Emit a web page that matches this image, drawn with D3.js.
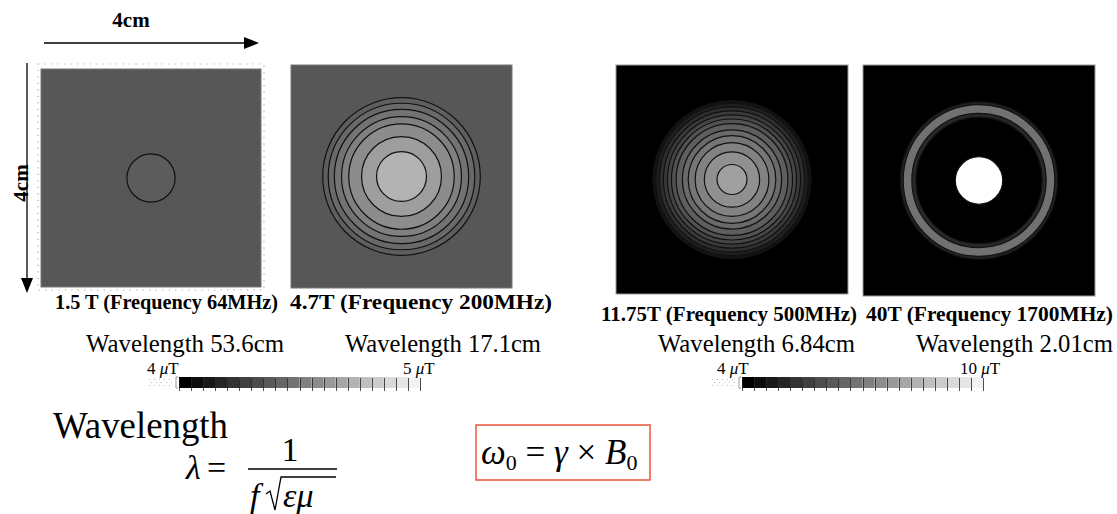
<!DOCTYPE html>
<meta charset="utf-8">
<script src="https://d3js.org/d3.v7.min.js"></script>
<style>
  body { margin: 0; background: #fff; }
</style>
<div id="chart"></div>
<script>
// ---- data ----
var fields = ["1.5T", "4.7T", "11.75T", "40T"];
var panelLabels = ["1.5 T (Frequency 64MHz)", "4.7T (Frequency 200MHz)", "11.75T (Frequency 500MHz)", "40T (Frequency 1700MHz)"];
var wavelengthLabels = ["Wavelength 53.6cm", "Wavelength 17.1cm", "Wavelength 6.84cm", "Wavelength 2.01cm"];

// field (uT) outside the rings
var backgroundLevels = [4.34, 4.34, 3.9, 3.9];
// ring radii in cm (outer to inner) and field level inside each ring
var ringRadii = [
  [0.44],
  [1.42, 1.32, 1.21, 1.08, 0.95, 0.72, 0.45],
  [1.38, 1.31, 1.26, 1.19, 1.12, 1.05, 0.97, 0.86, 0.76, 0.64, 0.48, 0.26],
  [1.36, 1.31, 1.16, 1.09, 0.41]
];
var ringLevels = [
  [4.36],
  [4.37, 4.41, 4.45, 4.50, 4.55, 4.62, 4.70],
  [4.42, 4.75, 5.08, 5.36, 5.65, 5.93, 6.21, 6.49, 6.78, 7.06, 7.39, 7.76],
  [4.82, 6.65, 4.94, 4.0, 10.5]
];
// outer rings that have no contour line
var unlinedRings = [0, 0, 2, 0];

// colour bars
var barRanges = [[4, 5], [4, 10]];
var barLabels = [["4", "5"], ["4", "10"]];
var barSteps = 20;

// ---- layout ----
var W = 1117, H = 514;
var FONT = "Liberation Serif";
var boxes = [
  {x: 41, y: 69, w: 220, h: 218, bar: 0},
  {x: 291, y: 65, w: 221, h: 223, bar: 0},
  {x: 616, y: 65, w: 232, h: 229, bar: 1},
  {x: 863, y: 65, w: 232, h: 231, bar: 1}
];
var labelPos = [
  {x: 55, len: 223, y: 309}, {x: 290, len: 262, y: 309},
  {x: 601, len: 256, y: 321}, {x: 866, len: 247, y: 321}
];
var wavePos = [
  {x: 86, len: 198, y: 352}, {x: 345, len: 196, y: 352},
  {x: 658, len: 197, y: 352}, {x: 916, len: 197, y: 352}
];
var bars = [
  {x0: 179, x1: 420, lab: [147, 403]},
  {x0: 742, x1: 983, lab: [717, 960]}
];
var barY = 377, barH = 11;

var svg = d3.select("#chart").append("svg")
  .attr("width", W).attr("height", H)
  .attr("font-family", FONT);

function txt(parent, x, y, size) {
  return parent.append("text").attr("x", x).attr("y", y)
    .attr("font-family", FONT).attr("font-size", size).attr("fill", "#000");
}

var colors = barRanges.map(function(r) {
  return d3.scaleLinear().domain(r).range(["#000", "#fff"]).clamp(true);
});

// ---- panels ----
boxes.forEach(function(b, i) {
  var color = colors[b.bar];
  var cx = d3.scaleLinear().domain([-2, 2]).range([b.x, b.x + b.w]);
  var cy = d3.scaleLinear().domain([-2, 2]).range([b.y, b.y + b.h]);
  var r = d3.scaleLinear().domain([0, 4]).range([0, (b.w + b.h) / 2]);
  var g = svg.append("g").attr("class", "panel-" + fields[i]);

  g.append("rect")
    .attr("x", cx(-2)).attr("y", cy(-2))
    .attr("width", cx(2) - cx(-2)).attr("height", cy(2) - cy(-2))
    .attr("fill", color(backgroundLevels[i]))
    .attr("stroke", b.bar ? "#999" : "#777").attr("stroke-width", 1);

  var rings = ringRadii[i].map(function(d, k) {
    return {r: d, level: ringLevels[i][k], line: k >= unlinedRings[i]};
  });
  g.selectAll("circle").data(rings).enter().append("circle")
    .attr("cx", cx(0)).attr("cy", cy(0))
    .attr("r", function(d) { return r(d.r); })
    .attr("fill", function(d) { return color(d.level); })
    .attr("stroke", function(d) { return d.line ? "#111" : "none"; })
    .attr("stroke-width", 1.2);

  var lp = labelPos[i];
  txt(svg, lp.x, lp.y, 20)
    .attr("textLength", lp.len).attr("lengthAdjust", "spacingAndGlyphs")
    .attr("font-weight", "bold")
    .text(panelLabels[i]);

  var wp = wavePos[i];
  txt(svg, wp.x, wp.y, 25)
    .attr("textLength", wp.len).attr("lengthAdjust", "spacingAndGlyphs")
    .text(wavelengthLabels[i]);
});

// dotted frame around first panel
svg.append("rect")
  .attr("x", 38).attr("y", 64).attr("width", 226).attr("height", 226)
  .attr("fill", "none").attr("stroke", "#aaa").attr("stroke-width", 1.2)
  .attr("stroke-dasharray", "1.2,5.3");

// ---- scale arrows ----
function arrow(x1, y1, x2, y2) {
  svg.append("line").attr("x1", x1).attr("y1", y1).attr("x2", x2).attr("y2", y2)
    .attr("stroke", "#000").attr("stroke-width", 1.3);
  var a = Math.atan2(y2 - y1, x2 - x1), L = 12, Wd = 6;
  var p = [[x2 + Math.cos(a) * 3, y2 + Math.sin(a) * 3],
    [x2 - Math.cos(a) * L + Math.sin(a) * Wd, y2 - Math.sin(a) * L - Math.cos(a) * Wd],
    [x2 - Math.cos(a) * L - Math.sin(a) * Wd, y2 - Math.sin(a) * L + Math.cos(a) * Wd]];
  svg.append("path").attr("d", "M" + p.join("L") + "Z").attr("fill", "#000");
}
arrow(44, 43, 256, 43);
arrow(27, 63, 27, 290);
txt(svg, 131, 27, 21).attr("text-anchor", "middle")
  .attr("font-weight", "bold").text("4cm");
txt(svg, 0, 0, 21).attr("transform", "translate(28,183) rotate(-90)")
  .attr("text-anchor", "middle")
  .attr("font-weight", "bold").text("4cm");

// ---- colour bars ----
bars.forEach(function(bb, j) {
  var range = barRanges[j];
  var x = d3.scaleLinear().domain(range).range([bb.x0, bb.x1]);
  var step = (range[1] - range[0]) / barSteps;
  var cells = d3.range(barSteps).map(function(k) { return range[0] + k * step; });
  var g = svg.append("g");

  // faint dotted block left of the bar
  for (var yy = 0; yy < 3; yy++) {
    for (var xx = 0; xx < 5; xx++) {
      g.append("rect").attr("x", bb.x0 - 30 + xx * 5 + (yy % 2) * 2).attr("y", barY + 2 + yy * 3)
        .attr("width", 1).attr("height", 1).attr("fill", "#bbb");
    }
  }
  g.selectAll(".cell").data(cells).enter().append("rect")
    .attr("class", "cell")
    .attr("x", function(d) { return x(d); })
    .attr("y", barY)
    .attr("width", x(range[0] + step) - x(range[0]))
    .attr("height", barH)
    .attr("fill", function(d) { return colors[j](d); });
  g.selectAll(".sep").data(cells.concat([range[1]])).enter().append("line")
    .attr("class", "sep")
    .attr("x1", function(d) { return Math.round(x(d)) + 0.5; })
    .attr("x2", function(d) { return Math.round(x(d)) + 0.5; })
    .attr("y1", barY + 1).attr("y2", barY + barH + 3)
    .attr("stroke", "#222").attr("stroke-width", 0.8);
  g.append("path")
    .attr("d", "M" + (bb.x0 - 1) + "," + barY + "h-2v" + barH + "h2")
    .attr("fill", "none").attr("stroke", "#999");
  barLabels[j].forEach(function(t, k) {
    var tx = txt(g, bb.lab[k], barY - 3, 17);
    tx.append("tspan").text(t + " ");
    tx.append("tspan").attr("font-style", "italic").text("\u03bc");
    tx.append("tspan").text("T");
  });
});

// ---- formulas ----
txt(svg, 53, 438, 38)
  .attr("textLength", 175).attr("lengthAdjust", "spacingAndGlyphs")
  .text("Wavelength");

var f = svg.append("g");
txt(f, 186, 479, 34).attr("font-style", "italic").text("\u03bb");
txt(f, 207, 479, 34).text("=");
f.append("line").attr("x1", 248).attr("x2", 337).attr("y1", 469).attr("y2", 469)
  .attr("stroke", "#000").attr("stroke-width", 1.3);
txt(f, 290, 461, 34).attr("text-anchor", "middle").text("1");
txt(f, 250, 507, 34).attr("font-style", "italic").text("f");
f.append("path").attr("d", "M266,494 L270,491 L275,510 L281,477 L336,477")
  .attr("fill", "none").attr("stroke", "#000").attr("stroke-width", 1.3);
txt(f, 283, 507, 34).attr("font-style", "italic").text("\u03b5\u03bc");

svg.append("rect").attr("x", 476).attr("y", 425).attr("width", 174).attr("height", 55)
  .attr("fill", "none").attr("stroke", "#e8553c").attr("stroke-width", 1.5);
var e = txt(svg, 481, 464, 35);
e.append("tspan").attr("font-style", "italic").text("\u03c9");
e.append("tspan").attr("dy", 6).attr("font-size", 22).text("0");
e.append("tspan").attr("dy", -6).text(" = ");
e.append("tspan").attr("font-style", "italic").text("\u03b3");
e.append("tspan").text(" \u00d7 ");
e.append("tspan").attr("font-style", "italic").text("B");
e.append("tspan").attr("dy", 6).attr("font-size", 22).text("0");
</script>
